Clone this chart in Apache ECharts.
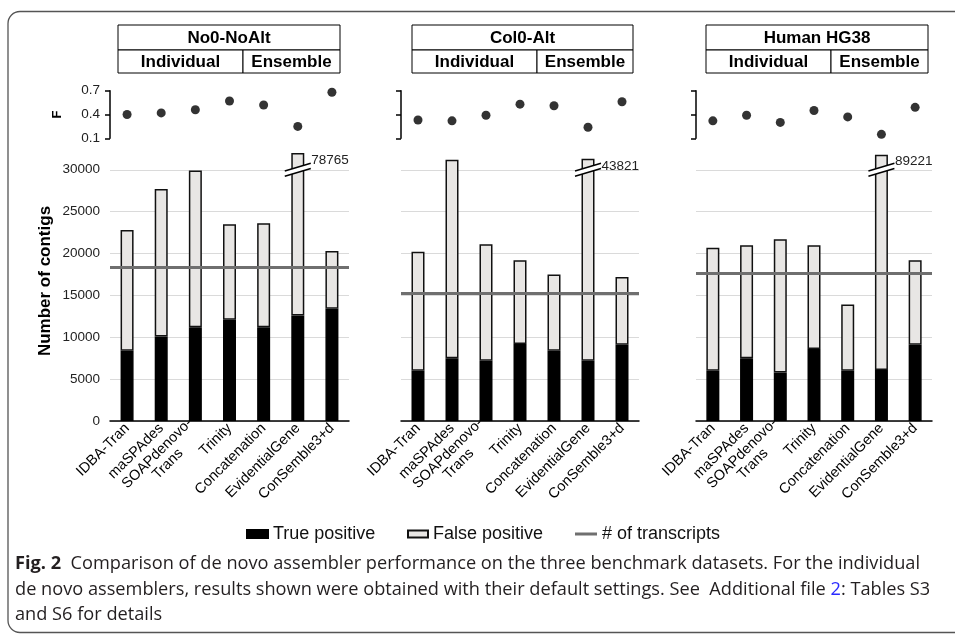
<!DOCTYPE html>
<html><head><meta charset="utf-8">
<script src="https://cdn.jsdelivr.net/npm/echarts@6/dist/echarts.min.js"></script>
<style>html,body{margin:0;padding:0;background:#fff}#c{width:955px;height:634px}</style>
</head><body><div id="c"></div>
<script>
// ---------- data ----------
const categories = ['IDBA-Tran','maSPAdes','SOAPdenovo-\nTrans','Trinity','Concatenation','EvidentialGene','ConSemble3+d'];
const datasets = ['No0-NoAlt','Col0-Alt','Human HG38'];
const groupLabels = ['Individual','Ensemble'];

const truePositive_No0 = [8400,10100,11200,12100,11200,12600,13400];
const totalContigs_No0 = [22800,27700,29900,23500,23600,78765,20300];
const fScore_No0 = [0.40,0.42,0.46,0.57,0.52,0.25,0.68];

const truePositive_Col0 = [6000,7500,7200,9200,8400,7200,9100];
const totalContigs_Col0 = [20200,31200,21100,19200,17500,43821,17200];
const fScore_Col0 = [0.33,0.32,0.39,0.53,0.51,0.24,0.56];

const truePositive_HG38 = [6000,7500,5800,8600,6000,6100,9100];
const totalContigs_HG38 = [20700,21000,21700,21000,13900,89221,19200];
const fScore_HG38 = [0.32,0.39,0.30,0.45,0.37,0.15,0.49];

const transcripts = [18400,15300,17600];
const contigTicks = [0,5000,10000,15000,20000,25000,30000];
const fTicks = [0.1,0.4,0.7];
const brokenBarIndex = 5;                       // EvidentialGene bar is cut
const brokenBarShownTop = [32000,31300,31800];  // visible (cut) height
const breakAt = 30000;

const truePositive = [truePositive_No0, truePositive_Col0, truePositive_HG38];
const totalContigs = [totalContigs_No0, totalContigs_Col0, totalContigs_HG38];
const fScore = [fScore_No0, fScore_Col0, fScore_HG38];

// ---------- layout ----------
const FONT = '"Liberation Sans", Arial, sans-serif';
const panels = [
  {left:110, width:239, box:[118,340,243]},
  {left:401, width:238, box:[412,633,537]},
  {left:696, width:236, box:[706,928,831]}
];
const barTop = 153, barHeight = 268;
const fTop = 90.7, fHeight = 47.6;
const catFont = 14.5;

const grid = [], xAxis = [], yAxis = [], series = [], graphic = [];

function renderBreak(params, api){
  const c = api.coord([api.value(0), api.value(1)]);
  const half = 13, slope = 0.3, gap = 2.6;
  const y = (x, off) => c[1] + off - (x - c[0]) * slope;
  const x1 = c[0] - half, x2 = c[0] + half;
  return {type:'group', children:[
    {type:'polygon', shape:{points:[[x1,y(x1,-gap)],[x2,y(x2,-gap)],[x2,y(x2,gap)],[x1,y(x1,gap)]]}, style:{fill:'#fff'}},
    {type:'line', shape:{x1:x1, y1:y(x1,-gap), x2:x2, y2:y(x2,-gap)}, style:{stroke:'#000', lineWidth:1.5}},
    {type:'line', shape:{x1:x1, y1:y(x1,gap), x2:x2, y2:y(x2,gap)}, style:{stroke:'#000', lineWidth:1.5}}
  ]};
}

panels.forEach((p, i) => {
  grid.push({left:p.left, width:p.width, top:barTop, height:barHeight, containLabel:false});
  grid.push({left:p.left, width:p.width, top:fTop, height:fHeight, containLabel:false});

  xAxis.push({
    type:'category', gridIndex:2*i, data:categories,
    axisLine:{lineStyle:{color:'#000', width:1.5}},
    axisTick:{show:false},
    axisLabel:{
      interval:0, rotate:45, margin:5, fontSize:catFont, fontFamily:FONT, color:'#000',
      formatter: v => v.indexOf('\n') >= 0 ? v.split('\n').map((s,k) => k ? '{c|' + s + '}' : '{a|' + s + '}').join('\n') : v,
      rich:{a:{fontSize:catFont, fontFamily:FONT, color:'#000', align:'right'}, c:{fontSize:catFont, fontFamily:FONT, color:'#000', align:'center'}}
    }
  });
  xAxis.push({type:'category', gridIndex:2*i+1, data:categories, show:false});

  yAxis.push({
    type:'value', gridIndex:2*i, min:0, max:32000, interval:5000,
    axisLine:{show:false}, axisTick:{show:false},
    splitLine:{show:true, showMaxLine:false, lineStyle:{color:'#dadada', width:1}},
    axisLabel:{show:i===0, showMaxLabel:false, margin:10, fontSize:13.5, fontFamily:FONT, color:'#222',
      formatter: v => contigTicks.indexOf(v) >= 0 ? String(v) : ''},
    name: i === 0 ? 'Number of contigs' : '',
    nameLocation:'middle', nameRotate:90, nameGap:56,
    nameTextStyle:{fontSize:17, fontWeight:'bold', fontFamily:FONT, color:'#000', padding:[0,0,0,12]}
  });
  yAxis.push({
    type:'value', gridIndex:2*i+1, min:fTicks[0], max:fTicks[fTicks.length-1], interval:0.3,
    axisLine:{show:true, lineStyle:{color:'#000', width:1.5}},
    axisTick:{show:true, length:5, lineStyle:{color:'#000', width:1.5}},
    splitLine:{show:false},
    axisLabel:{show:i===0, margin:10, fontSize:13.5, fontFamily:FONT, color:'#222',
      formatter: v => v.toFixed(1)},
    name: i === 0 ? 'F' : '',
    nameLocation:'middle', nameRotate:90, nameGap:46,
    nameTextStyle:{fontSize:13, fontWeight:'bold', fontFamily:FONT, color:'#000'}
  });

  const tp = truePositive[i], tot = totalContigs[i];
  series.push({
    type:'bar', name:'True positive', xAxisIndex:2*i, yAxisIndex:2*i, stack:'s'+i, barWidth:13,
    data: tp, itemStyle:{color:'#000', borderColor:'#000', borderWidth:1.5}
  });
  series.push({
    type:'bar', name:'False positive', xAxisIndex:2*i, yAxisIndex:2*i, stack:'s'+i, barWidth:13,
    data: tot.map((t,k) => k === brokenBarIndex ? {
      value: brokenBarShownTop[i] - tp[k],
      label:{show:true, formatter:String(t), position:['100%',0], align:'left', verticalAlign:'top',
        offset:[7,0], fontSize:13.5, fontFamily:FONT, color:'#222'}
    } : t - tp[k]),
    itemStyle:{color:'#e8e6e4', borderColor:'#111', borderWidth:1.5}
  });
  series.push({
    type:'line', name:'# of transcripts', xAxisIndex:2*i, yAxisIndex:2*i, data:[],
    itemStyle:{color:'#6f6f6f'}, lineStyle:{color:'#6f6f6f', width:3},
    markLine:{silent:true, symbol:'none', label:{show:false},
      lineStyle:{color:'#6f6f6f', width:3, type:'solid'},
      data:[{yAxis:transcripts[i]}]}
  });
  series.push({
    type:'custom', name:'break', xAxisIndex:2*i, yAxisIndex:2*i, z:10, silent:true,
    data:[[brokenBarIndex, breakAt]], renderItem:renderBreak
  });
  series.push({
    type:'scatter', name:'F', xAxisIndex:2*i+1, yAxisIndex:2*i+1, data:fScore[i],
    symbolSize:9, itemStyle:{color:'#000'}
  });

  // header table
  const [b0,b1,b2] = p.box;
  const boxStyle = {fill:'#fff', stroke:'#000', lineWidth:1};
  graphic.push({type:'rect', shape:{x:b0, y:25, width:b1-b0, height:25}, style:boxStyle});
  graphic.push({type:'rect', shape:{x:b0, y:50, width:b2-b0, height:23}, style:boxStyle});
  graphic.push({type:'rect', shape:{x:b2, y:50, width:b1-b2, height:23}, style:boxStyle});
  const hFont = 'bold 17px ' + FONT;
  graphic.push({type:'text', x:(b0+b1)/2, y:38, style:{text:datasets[i], font:hFont, fill:'#000', align:'center', verticalAlign:'middle'}});
  graphic.push({type:'text', x:(b0+b2)/2, y:62, style:{text:groupLabels[0], font:hFont, fill:'#000', align:'center', verticalAlign:'middle'}});
  graphic.push({type:'text', x:(b2+b1)/2, y:62, style:{text:groupLabels[1], font:hFont, fill:'#000', align:'center', verticalAlign:'middle'}});
});

// frame
graphic.push({type:'rect', z:-10, shape:{x:8, y:11.5, width:1000, height:621, r:12}, style:{fill:'none', stroke:'#555', lineWidth:1.3}});

// caption
const CAP = '"Open Sans", "Noto Sans", sans-serif';
const capFont = '18.2px ' + CAP;
graphic.push({type:'text', x:15, y:564, style:{
  text:'{b|Fig. 2}  Comparison of de novo assembler performance on the three benchmark datasets. For the individual',
  font:capFont, fill:'#231f20', verticalAlign:'middle',
  rich:{b:{font:'bold 18.2px ' + CAP, fill:'#231f20'}}}});
graphic.push({type:'text', x:15, y:590, style:{
  text:'de novo assemblers, results shown were obtained with their default settings. See  Additional file {l|2}: Tables S3',
  font:capFont, fill:'#231f20', verticalAlign:'middle',
  rich:{l:{font:capFont, fill:'#2b2bff'}}}});
graphic.push({type:'text', x:15, y:615, style:{
  text:'and S6 for details', font:capFont, fill:'#231f20', verticalAlign:'middle'}});

const legendText = {fontSize:18, fontFamily:FONT, color:'#111'};
const legend = [
  {data:['True positive'], left:246, top:525, padding:0, icon:'rect', itemWidth:21, itemHeight:8, textStyle:legendText, selectedMode:false},
  {data:['False positive'], left:407, top:525, padding:0, icon:'rect', itemWidth:20, itemHeight:7, textStyle:legendText, selectedMode:false},
  {data:['# of transcripts'], left:575, top:525, padding:0, icon:'rect', itemWidth:22, itemHeight:3, textStyle:legendText, selectedMode:false,
   itemStyle:{color:'#6f6f6f'}}
];

const chart = echarts.init(document.getElementById('c'), null, {renderer:'canvas'});
chart.setOption({
  animation:false, backgroundColor:'#fff',
  grid, xAxis, yAxis, series, legend, graphic
});
</script></body></html>
